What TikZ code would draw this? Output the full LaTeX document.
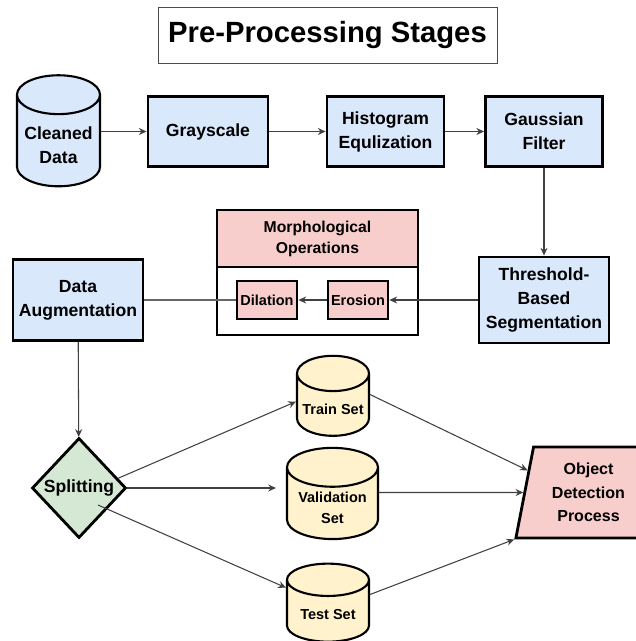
\documentclass[tikz,border=0pt]{standalone}
\usepackage{fontspec}
\setmainfont{Liberation Sans}
\usepackage{tikz}
\usetikzlibrary{shapes.geometric,arrows.meta,positioning,calc}

\definecolor{stageblue}{HTML}{DAE8FC}
\definecolor{morphpink}{HTML}{F8CECC}
\definecolor{splitgreen}{HTML}{D5E8D4}
\definecolor{setyellow}{HTML}{FFF2CC}
\definecolor{linegray}{HTML}{404040}

\newcommand\stagefont{\bfseries\fontsize{12.5}{17}\selectfont}
\newcommand\minorfont{\bfseries\fontsize{10.3}{14.5}\selectfont}
\newcommand\procfont{\bfseries\fontsize{11.4}{16.7}\selectfont}

\begin{document}
\begin{tikzpicture}[
    x=0.025cm, y=-0.025cm,
    stage/.style={rectangle, draw, line width=2pt, fill=stageblue, align=center, minimum width=2.925cm, minimum height=1.75cm, font=\stagefont},
    morph/.style={rectangle, draw, line width=2pt, fill=morphpink, align=center, minimum width=1.5cm, minimum height=0.95cm, inner sep=1pt, font=\minorfont},
    store/.style={cylinder, shape border rotate=90, aspect=0.5, draw, line width=1.5pt, fill=setyellow, align=center, font=\minorfont},
    decision/.style={diamond, draw, line width=2pt, fill=splitgreen, minimum width=2.35cm, minimum height=2.5cm, inner sep=0pt, font=\stagefont},
    arrow/.style={->, >={Stealth[length=5.5pt, width=5pt]}, draw=linegray, line width=0.75pt},
    link/.style={-, draw=linegray!80, line width=0.75pt}
]
\useasboundingbox (0,0) rectangle (636,641);

% Title
\node[draw=black!70, line width=0.6pt, minimum width=8.475cm, minimum height=1.4cm, font=\bfseries\fontsize{20.8}{25}\selectfont] (title) at (327.5,35) {Pre-Processing Stages};

% Stages
\node[store, fill=stageblue, font=\stagefont, minimum width=2.075cm, minimum height=2.775cm] (clean) at (58.5,145.5) {Cleaned\\Data};
\node[stage, minimum width=3cm] (gray) at (208,131.5) {Grayscale};
\node[stage] (hist) at (385.5,131.5) {Histogram\\Equlization};
\node[stage] (gauss) at (544,131.5) {Gaussian\\Filter};
\node[stage, minimum width=3.25cm, minimum height=2.15cm] (thresh) at (544,300) {Threshold-\\Based\\Segmentation};

% Morphological operations
\node[draw, line width=2pt, fill=white, minimum width=5.025cm, minimum height=3.125cm] (morphbox) at (317.5,272.5) {};
\node[morph, minimum width=5.025cm, minimum height=1.425cm, font=\bfseries\fontsize{11.2}{15}\selectfont] (morphhead) at (317.5,238.5) {Morphological\\Operations};
\node[morph] (dil) at (267,300) {Dilation};
\node[morph] (ero) at (358,300) {Erosion};

\node[stage, minimum width=3.25cm, minimum height=2.025cm] (aug) at (78,300) {Data\\Augmentation};

% Splitting
\node[decision] (split) at (79,488) {Splitting};
\node[store, minimum width=1.8cm, minimum height=2cm] (train) at (333,409.5) {Train Set};
\node[store, minimum width=2.275cm, minimum height=2.225cm] (val) at (332.5,508) {Validation\\Set};
\node[store, minimum width=2.05cm, minimum height=1.95cm] (test) at (328,615) {Test Set};
\node[trapezium, trapezium left angle=79, trapezium right angle=101, draw, line width=2pt, fill=morphpink, minimum height=2.275cm, align=center, font=\procfont] (obj) at (588.5,492.5) {Object\\Detection\\Process};

% Connections
\draw[arrow] (clean.east |- gray) -- (gray);
\draw[arrow] (gray) -- (hist);
\draw[arrow] (hist) -- (gauss);
\draw[arrow] (gauss) -- (thresh);
\draw[arrow] (thresh) -- (ero);
\draw[arrow] (ero) -- (dil);
\draw[link] (dil) -- (aug);
\draw[arrow] (aug) -- (split);
\draw[arrow] (split.14) -- (train.168);
\draw[arrow, shorten >=0.25cm] (split.east) -- (split.east -| val.west);
\draw[arrow] ($(split.center)+(19,17)$) -- (test.147);
\draw[arrow] (train.22) -- (obj.160);
\draw[arrow] (val.east |- obj) -- (obj);
\draw[arrow] (test.26) -- (obj.bottom left corner);

\end{tikzpicture}
\end{document}
